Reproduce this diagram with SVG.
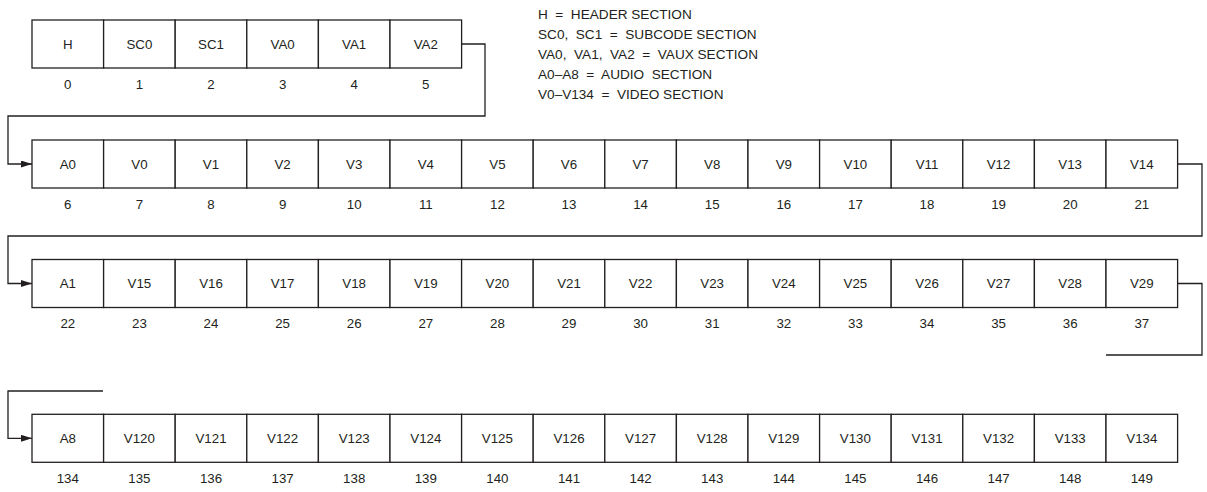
<svg xmlns="http://www.w3.org/2000/svg" width="1207" height="492" viewBox="0 0 1207 492">
<defs>
<style>
.c rect{fill:#fff;stroke:#231f20;stroke-width:1.3}
.c text,.n,.lg{font-family:"Liberation Sans",Arial,sans-serif;font-size:13.3px;fill:#231f20}
.c text{text-anchor:middle}
.n{text-anchor:middle}
.lg text{font-size:13.6px;white-space:pre}
.w{fill:none;stroke:#231f20;stroke-width:1.3}
</style>
<marker id="ah" markerUnits="userSpaceOnUse" markerWidth="12" markerHeight="8" refX="11" refY="3.5" orient="auto">
<path d="M0,0 L11,3.5 L0,7 Z" fill="#231f20"/>
</marker>
</defs>
<rect width="1207" height="492" fill="#fff"/>
<g id="legend" class="lg">
<text x="538" y="18.5" xml:space="preserve">H  =  HEADER SECTION</text>
<text x="538" y="38.5" xml:space="preserve">SC0,  SC1  =  SUBCODE SECTION</text>
<text x="538" y="58.5" xml:space="preserve">VA0,  VA1,  VA2  =  VAUX SECTION</text>
<text x="538" y="78.5" xml:space="preserve">A0–A8  =  AUDIO  SECTION</text>
<text x="538" y="99" xml:space="preserve">V0–V134  =  VIDEO SECTION</text>
</g>
<g id="connectors">
<path class="w" d="M461.6,44 H485 V116 H8 V164 H32" marker-end="url(#ah)"/>
<path class="w" d="M1177.6,164 H1202 V236 H8 V283.5 H32" marker-end="url(#ah)"/>
<path class="w" d="M1177.6,283.5 H1202 V355 H1106"/>
<path class="w" d="M103,391 H8 V438.3 H32" marker-end="url(#ah)"/>
</g>
<g id="row1">
<g id="n0" class="c"><rect x="32" y="20" width="71.6" height="48"/><text x="67.8" y="48.8">H</text></g>
<g id="n1" class="c"><rect x="103.6" y="20" width="71.6" height="48"/><text x="139.4" y="48.8">SC0</text></g>
<g id="n2" class="c"><rect x="175.2" y="20" width="71.6" height="48"/><text x="211" y="48.8">SC1</text></g>
<g id="n3" class="c"><rect x="246.8" y="20" width="71.6" height="48"/><text x="282.6" y="48.8">VA0</text></g>
<g id="n4" class="c"><rect x="318.4" y="20" width="71.6" height="48"/><text x="354.2" y="48.8">VA1</text></g>
<g id="n5" class="c"><rect x="390" y="20" width="71.6" height="48"/><text x="425.8" y="48.8">VA2</text></g>
<g class="n"><text x="67.8" y="88.5">0</text><text x="139.4" y="88.5">1</text><text x="211" y="88.5">2</text><text x="282.6" y="88.5">3</text><text x="354.2" y="88.5">4</text><text x="425.8" y="88.5">5</text></g>
</g>
<g id="row2">
<g id="n6" class="c"><rect x="32" y="140" width="71.6" height="48"/><text x="67.8" y="168.8">A0</text></g>
<g id="n7" class="c"><rect x="103.6" y="140" width="71.6" height="48"/><text x="139.4" y="168.8">V0</text></g>
<g id="n8" class="c"><rect x="175.2" y="140" width="71.6" height="48"/><text x="211" y="168.8">V1</text></g>
<g id="n9" class="c"><rect x="246.8" y="140" width="71.6" height="48"/><text x="282.6" y="168.8">V2</text></g>
<g id="n10" class="c"><rect x="318.4" y="140" width="71.6" height="48"/><text x="354.2" y="168.8">V3</text></g>
<g id="n11" class="c"><rect x="390" y="140" width="71.6" height="48"/><text x="425.8" y="168.8">V4</text></g>
<g id="n12" class="c"><rect x="461.6" y="140" width="71.6" height="48"/><text x="497.4" y="168.8">V5</text></g>
<g id="n13" class="c"><rect x="533.2" y="140" width="71.6" height="48"/><text x="569" y="168.8">V6</text></g>
<g id="n14" class="c"><rect x="604.8" y="140" width="71.6" height="48"/><text x="640.6" y="168.8">V7</text></g>
<g id="n15" class="c"><rect x="676.4" y="140" width="71.6" height="48"/><text x="712.2" y="168.8">V8</text></g>
<g id="n16" class="c"><rect x="748" y="140" width="71.6" height="48"/><text x="783.8" y="168.8">V9</text></g>
<g id="n17" class="c"><rect x="819.6" y="140" width="71.6" height="48"/><text x="855.4" y="168.8">V10</text></g>
<g id="n18" class="c"><rect x="891.2" y="140" width="71.6" height="48"/><text x="927" y="168.8">V11</text></g>
<g id="n19" class="c"><rect x="962.8" y="140" width="71.6" height="48"/><text x="998.6" y="168.8">V12</text></g>
<g id="n20" class="c"><rect x="1034.4" y="140" width="71.6" height="48"/><text x="1070.2" y="168.8">V13</text></g>
<g id="n21" class="c"><rect x="1106" y="140" width="71.6" height="48"/><text x="1141.8" y="168.8">V14</text></g>
<g class="n"><text x="67.8" y="208.5">6</text><text x="139.4" y="208.5">7</text><text x="211" y="208.5">8</text><text x="282.6" y="208.5">9</text><text x="354.2" y="208.5">10</text><text x="425.8" y="208.5">11</text><text x="497.4" y="208.5">12</text><text x="569" y="208.5">13</text><text x="640.6" y="208.5">14</text><text x="712.2" y="208.5">15</text><text x="783.8" y="208.5">16</text><text x="855.4" y="208.5">17</text><text x="927" y="208.5">18</text><text x="998.6" y="208.5">19</text><text x="1070.2" y="208.5">20</text><text x="1141.8" y="208.5">21</text></g>
</g>
<g id="row3">
<g id="n22" class="c"><rect x="32" y="259.5" width="71.6" height="48"/><text x="67.8" y="288.3">A1</text></g>
<g id="n23" class="c"><rect x="103.6" y="259.5" width="71.6" height="48"/><text x="139.4" y="288.3">V15</text></g>
<g id="n24" class="c"><rect x="175.2" y="259.5" width="71.6" height="48"/><text x="211" y="288.3">V16</text></g>
<g id="n25" class="c"><rect x="246.8" y="259.5" width="71.6" height="48"/><text x="282.6" y="288.3">V17</text></g>
<g id="n26" class="c"><rect x="318.4" y="259.5" width="71.6" height="48"/><text x="354.2" y="288.3">V18</text></g>
<g id="n27" class="c"><rect x="390" y="259.5" width="71.6" height="48"/><text x="425.8" y="288.3">V19</text></g>
<g id="n28" class="c"><rect x="461.6" y="259.5" width="71.6" height="48"/><text x="497.4" y="288.3">V20</text></g>
<g id="n29" class="c"><rect x="533.2" y="259.5" width="71.6" height="48"/><text x="569" y="288.3">V21</text></g>
<g id="n30" class="c"><rect x="604.8" y="259.5" width="71.6" height="48"/><text x="640.6" y="288.3">V22</text></g>
<g id="n31" class="c"><rect x="676.4" y="259.5" width="71.6" height="48"/><text x="712.2" y="288.3">V23</text></g>
<g id="n32" class="c"><rect x="748" y="259.5" width="71.6" height="48"/><text x="783.8" y="288.3">V24</text></g>
<g id="n33" class="c"><rect x="819.6" y="259.5" width="71.6" height="48"/><text x="855.4" y="288.3">V25</text></g>
<g id="n34" class="c"><rect x="891.2" y="259.5" width="71.6" height="48"/><text x="927" y="288.3">V26</text></g>
<g id="n35" class="c"><rect x="962.8" y="259.5" width="71.6" height="48"/><text x="998.6" y="288.3">V27</text></g>
<g id="n36" class="c"><rect x="1034.4" y="259.5" width="71.6" height="48"/><text x="1070.2" y="288.3">V28</text></g>
<g id="n37" class="c"><rect x="1106" y="259.5" width="71.6" height="48"/><text x="1141.8" y="288.3">V29</text></g>
<g class="n"><text x="67.8" y="328">22</text><text x="139.4" y="328">23</text><text x="211" y="328">24</text><text x="282.6" y="328">25</text><text x="354.2" y="328">26</text><text x="425.8" y="328">27</text><text x="497.4" y="328">28</text><text x="569" y="328">29</text><text x="640.6" y="328">30</text><text x="712.2" y="328">31</text><text x="783.8" y="328">32</text><text x="855.4" y="328">33</text><text x="927" y="328">34</text><text x="998.6" y="328">35</text><text x="1070.2" y="328">36</text><text x="1141.8" y="328">37</text></g>
</g>
<g id="row4">
<g id="n134" class="c"><rect x="32" y="414.3" width="71.6" height="48"/><text x="67.8" y="443.1">A8</text></g>
<g id="n135" class="c"><rect x="103.6" y="414.3" width="71.6" height="48"/><text x="139.4" y="443.1">V120</text></g>
<g id="n136" class="c"><rect x="175.2" y="414.3" width="71.6" height="48"/><text x="211" y="443.1">V121</text></g>
<g id="n137" class="c"><rect x="246.8" y="414.3" width="71.6" height="48"/><text x="282.6" y="443.1">V122</text></g>
<g id="n138" class="c"><rect x="318.4" y="414.3" width="71.6" height="48"/><text x="354.2" y="443.1">V123</text></g>
<g id="n139" class="c"><rect x="390" y="414.3" width="71.6" height="48"/><text x="425.8" y="443.1">V124</text></g>
<g id="n140" class="c"><rect x="461.6" y="414.3" width="71.6" height="48"/><text x="497.4" y="443.1">V125</text></g>
<g id="n141" class="c"><rect x="533.2" y="414.3" width="71.6" height="48"/><text x="569" y="443.1">V126</text></g>
<g id="n142" class="c"><rect x="604.8" y="414.3" width="71.6" height="48"/><text x="640.6" y="443.1">V127</text></g>
<g id="n143" class="c"><rect x="676.4" y="414.3" width="71.6" height="48"/><text x="712.2" y="443.1">V128</text></g>
<g id="n144" class="c"><rect x="748" y="414.3" width="71.6" height="48"/><text x="783.8" y="443.1">V129</text></g>
<g id="n145" class="c"><rect x="819.6" y="414.3" width="71.6" height="48"/><text x="855.4" y="443.1">V130</text></g>
<g id="n146" class="c"><rect x="891.2" y="414.3" width="71.6" height="48"/><text x="927" y="443.1">V131</text></g>
<g id="n147" class="c"><rect x="962.8" y="414.3" width="71.6" height="48"/><text x="998.6" y="443.1">V132</text></g>
<g id="n148" class="c"><rect x="1034.4" y="414.3" width="71.6" height="48"/><text x="1070.2" y="443.1">V133</text></g>
<g id="n149" class="c"><rect x="1106" y="414.3" width="71.6" height="48"/><text x="1141.8" y="443.1">V134</text></g>
<g class="n"><text x="67.8" y="483">134</text><text x="139.4" y="483">135</text><text x="211" y="483">136</text><text x="282.6" y="483">137</text><text x="354.2" y="483">138</text><text x="425.8" y="483">139</text><text x="497.4" y="483">140</text><text x="569" y="483">141</text><text x="640.6" y="483">142</text><text x="712.2" y="483">143</text><text x="783.8" y="483">144</text><text x="855.4" y="483">145</text><text x="927" y="483">146</text><text x="998.6" y="483">147</text><text x="1070.2" y="483">148</text><text x="1141.8" y="483">149</text></g>
</g>
</svg>
